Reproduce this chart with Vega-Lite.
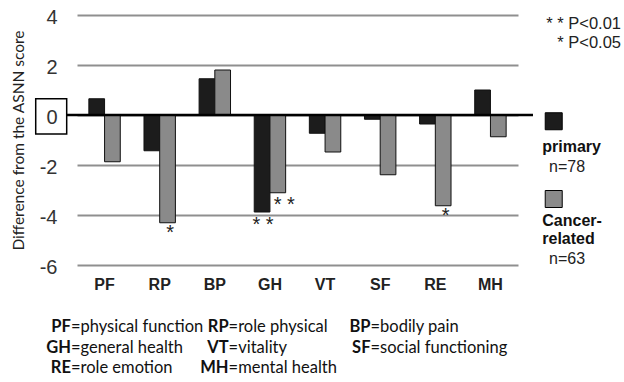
{
  "$schema": "https://vega.github.io/schema/vega-lite/v6.json",
  "width": 441,
  "height": 250,
  "autosize": {"type": "none"},
  "padding": {"left": 77, "top": 15, "right": 106, "bottom": 117},
  "background": "white",
  "config": {"view": {"stroke": null}, "font": "Liberation Sans", "text": {"font": "Liberation Sans"}, "axis": {"labelFont": "Liberation Sans"}},
  "datasets": {
    "scores": [
      {"domain": "PF", "series": "primary", "value": 0.65, "sig": ""},
      {"domain": "PF", "series": "cancer", "value": -1.87, "sig": ""},
      {"domain": "RP", "series": "primary", "value": -1.43, "sig": ""},
      {"domain": "RP", "series": "cancer", "value": -4.31, "sig": "*"},
      {"domain": "BP", "series": "primary", "value": 1.45, "sig": ""},
      {"domain": "BP", "series": "cancer", "value": 1.8, "sig": ""},
      {"domain": "GH", "series": "primary", "value": -3.88, "sig": "* *"},
      {"domain": "GH", "series": "cancer", "value": -3.11, "sig": "* *"},
      {"domain": "VT", "series": "primary", "value": -0.73, "sig": ""},
      {"domain": "VT", "series": "cancer", "value": -1.48, "sig": ""},
      {"domain": "SF", "series": "primary", "value": -0.17, "sig": ""},
      {"domain": "SF", "series": "cancer", "value": -2.39, "sig": ""},
      {"domain": "RE", "series": "primary", "value": -0.36, "sig": ""},
      {"domain": "RE", "series": "cancer", "value": -3.63, "sig": "*"},
      {"domain": "MH", "series": "primary", "value": 1.0, "sig": ""},
      {"domain": "MH", "series": "cancer", "value": -0.87, "sig": ""}
    ],
    "key": [
      {"col": 0, "line": 0, "abbr": "PF", "desc": "=physical function"},
      {"col": 1, "line": 0, "abbr": "RP", "desc": "=role physical"},
      {"col": 2, "line": 0, "abbr": "BP", "desc": "=bodily pain"},
      {"col": 0, "line": 1, "abbr": "GH", "desc": "=general health"},
      {"col": 1, "line": 1, "abbr": "VT", "desc": "=vitality"},
      {"col": 2, "line": 1, "abbr": "SF", "desc": "=social functioning"},
      {"col": 0, "line": 2, "abbr": "RE", "desc": "=role emotion"},
      {"col": 1, "line": 2, "abbr": "MH", "desc": "=mental health"}
    ]
  },
  "layer": [
    {
      "data": {"name": "scores"},
      "encoding": {
        "x": {
          "field": "domain",
          "type": "nominal",
          "sort": ["PF", "RP", "BP", "GH", "VT", "SF", "RE", "MH"],
          "scale": {"paddingInner": 0.43, "paddingOuter": 0.215},
          "axis": {
            "title": null,
            "domain": false,
            "ticks": false,
            "tickSize": 0,
            "labelAngle": 0,
            "labelFont": "Liberation Sans",
            "labelFontSize": 16,
            "labelFontWeight": "bold",
            "labelColor": "#222222",
            "labelPadding": 11,
            "grid": false
          }
        },
        "y": {
          "field": "value",
          "type": "quantitative",
          "scale": {"domain": [-6, 4], "nice": false, "zero": false},
          "axis": {
            "title": "Difference from the ASNN score",
            "titleFont": "Lato",
            "titleFontSize": 15.5,
            "titleFontWeight": "normal",
            "titleColor": "#222222",
            "titleAngle": -90,
            "titleX": -59,
            "titleY": 125,
            "titleAlign": "center",
            "titleBaseline": "middle",
            "values": [-6, -4, -2, 0, 2, 4],
            "labelExpr": "toString(datum.value)",
            "domain": false,
            "ticks": false,
            "tickSize": 0,
            "labelFont": "Liberation Sans",
            "labelFontSize": 20,
            "labelColor": "#333333",
            "labelPadding": 20,
            "labelOffset": 2,
            "grid": true,
            "gridColor": "#8f8f8f",
            "gridWidth": 2
          }
        }
      },
      "layer": [
        {
          "mark": {"type": "bar", "stroke": "#111111", "strokeWidth": 1},
          "encoding": {
            "y2": {"datum": 0},
            "xOffset": {"field": "series", "sort": ["primary", "cancer"]},
            "color": {
              "field": "series",
              "scale": {"domain": ["primary", "cancer"], "range": ["#1c1c1c", "#8a8a8a"]},
              "legend": null
            }
          }
        },
        {
          "transform": [{"filter": "datum.sig != '' && datum.domain != 'GH'"}],
          "mark": {"type": "text", "font": "Liberation Sans", "baseline": "top", "align": "center", "fontSize": 20, "dx": 2.5, "dy": 0, "color": "#222222"},
          "encoding": {
            "xOffset": {"field": "series", "sort": ["primary", "cancer"]},
            "text": {"field": "sig"}
          }
        },
        {
          "transform": [{"filter": "datum.domain == 'GH' && datum.series == 'primary'"}],
          "mark": {"type": "text", "font": "Liberation Sans", "baseline": "top", "align": "center", "fontSize": 20, "dx": 1, "dy": 3, "color": "#222222"},
          "encoding": {
            "xOffset": {"field": "series", "sort": ["primary", "cancer"]},
            "text": {"field": "sig"}
          }
        },
        {
          "transform": [{"filter": "datum.domain == 'GH' && datum.series == 'cancer'"}],
          "mark": {"type": "text", "font": "Liberation Sans", "baseline": "top", "align": "center", "fontSize": 20, "dx": 6.5, "dy": 2.5, "color": "#222222"},
          "encoding": {
            "xOffset": {"field": "series", "sort": ["primary", "cancer"]},
            "text": {"field": "sig"}
          }
        }
      ]
    },
    {
      "data": {"values": [{"a": 1}]},
      "layer": [
        {
          "mark": {"type": "rule", "color": "#000000", "strokeWidth": 2.5},
          "encoding": {
            "x": {"datum": -0.187, "type": "quantitative", "scale": {"domain": [0, 8], "nice": false, "zero": false}, "axis": null},
            "x2": {"datum": 8.272},
            "y": {"datum": 0, "type": "quantitative", "scale": {"domain": [-6, 4], "nice": false, "zero": false}, "axis": null}
          }
        },
        {
          "mark": {"type": "rect", "fill": "#ffffff", "fillOpacity": 0, "stroke": "#000000", "strokeWidth": 1.5},
          "encoding": {
            "x": {"datum": -0.749, "type": "quantitative"},
            "x2": {"datum": -0.187},
            "y": {"datum": 0.652, "type": "quantitative"},
            "y2": {"datum": -0.76}
          }
        },
        {
          "mark": {"type": "point", "shape": "square", "filled": true, "size": 289, "fill": "#1c1c1c", "stroke": "#000000", "strokeWidth": 1, "opacity": 1},
          "encoding": {
            "x": {"datum": 8.648, "type": "quantitative"},
            "y": {"datum": -0.25, "type": "quantitative"}
          }
        },
        {
          "mark": {"type": "point", "shape": "square", "filled": true, "size": 289, "fill": "#8a8a8a", "stroke": "#000000", "strokeWidth": 1, "opacity": 1},
          "encoding": {
            "x": {"datum": 8.648, "type": "quantitative"},
            "y": {"datum": -3.36, "type": "quantitative"}
          }
        },
        {
          "mark": {"type": "text", "font": "Liberation Sans", "text": "primary", "fontWeight": "bold", "fontSize": 16, "align": "left", "baseline": "middle", "color": "#111111"},
          "encoding": {
            "x": {"datum": 8.44, "type": "quantitative"},
            "y": {"datum": -1.29, "type": "quantitative"}
          }
        },
        {
          "mark": {"type": "text", "font": "Liberation Sans", "text": "n=78", "fontSize": 16, "align": "left", "baseline": "middle", "color": "#222222"},
          "encoding": {
            "x": {"datum": 8.563, "type": "quantitative"},
            "y": {"datum": -2.07, "type": "quantitative"}
          }
        },
        {
          "mark": {"type": "text", "font": "Liberation Sans", "text": "Cancer-", "fontWeight": "bold", "fontSize": 16, "align": "left", "baseline": "middle", "color": "#111111"},
          "encoding": {
            "x": {"datum": 8.44, "type": "quantitative"},
            "y": {"datum": -4.24, "type": "quantitative"}
          }
        },
        {
          "mark": {"type": "text", "font": "Liberation Sans", "text": "related", "fontWeight": "bold", "fontSize": 16, "align": "left", "baseline": "middle", "color": "#111111"},
          "encoding": {
            "x": {"datum": 8.44, "type": "quantitative"},
            "y": {"datum": -4.96, "type": "quantitative"}
          }
        },
        {
          "mark": {"type": "text", "font": "Liberation Sans", "text": "n=63", "fontSize": 16, "align": "left", "baseline": "middle", "color": "#222222"},
          "encoding": {
            "x": {"datum": 8.563, "type": "quantitative"},
            "y": {"datum": -5.77, "type": "quantitative"}
          }
        },
        {
          "mark": {"type": "text", "font": "Liberation Sans", "text": "* * P<0.01", "fontSize": 16.5, "align": "right", "baseline": "middle", "color": "#222222"},
          "encoding": {
            "x": {"datum": 9.869, "type": "quantitative"},
            "y": {"datum": 3.64, "type": "quantitative"}
          }
        },
        {
          "mark": {"type": "text", "font": "Liberation Sans", "text": "* P<0.05", "fontSize": 16.5, "align": "right", "baseline": "middle", "color": "#222222"},
          "encoding": {
            "x": {"datum": 9.869, "type": "quantitative"},
            "y": {"datum": 2.87, "type": "quantitative"}
          }
        }
      ]
    },
    {
      "data": {"name": "key"},
      "encoding": {
        "y": {"field": "line", "type": "quantitative", "scale": {"domain": [0, 2], "range": [312.3, 353.3], "nice": false, "zero": false}, "axis": null}
      },
      "layer": [
        {
          "transform": [{"filter": "datum.col == 0"}],
          "mark": {"type": "text", "font": "Lato", "fontWeight": "bold", "fontSize": 16.5, "align": "right", "baseline": "middle", "color": "#111111"},
          "encoding": {"x": {"datum": -0.11, "type": "quantitative", "scale": {"domain": [0, 8], "nice": false, "zero": false}, "axis": null}, "text": {"field": "abbr"}}
        },
        {
          "transform": [{"filter": "datum.col == 0"}],
          "mark": {"type": "text", "font": "Lato", "fontSize": 16.5, "align": "left", "baseline": "middle", "color": "#111111"},
          "encoding": {"x": {"datum": -0.11, "type": "quantitative"}, "text": {"field": "desc"}}
        },
        {
          "transform": [{"filter": "datum.col == 1"}],
          "mark": {"type": "text", "font": "Lato", "fontWeight": "bold", "fontSize": 16.5, "align": "right", "baseline": "middle", "color": "#111111"},
          "encoding": {"x": {"datum": 2.75, "type": "quantitative"}, "text": {"field": "abbr"}}
        },
        {
          "transform": [{"filter": "datum.col == 1"}],
          "mark": {"type": "text", "font": "Lato", "fontSize": 16.5, "align": "left", "baseline": "middle", "color": "#111111"},
          "encoding": {"x": {"datum": 2.75, "type": "quantitative"}, "text": {"field": "desc"}}
        },
        {
          "transform": [{"filter": "datum.col == 2"}],
          "mark": {"type": "text", "font": "Lato", "fontWeight": "bold", "fontSize": 16.5, "align": "right", "baseline": "middle", "color": "#111111"},
          "encoding": {"x": {"datum": 5.324, "type": "quantitative"}, "text": {"field": "abbr"}}
        },
        {
          "transform": [{"filter": "datum.col == 2"}],
          "mark": {"type": "text", "font": "Lato", "fontSize": 16.5, "align": "left", "baseline": "middle", "color": "#111111"},
          "encoding": {"x": {"datum": 5.324, "type": "quantitative"}, "text": {"field": "desc"}}
        }
      ]
    }
  ],
  "resolve": {"scale": {"x": "independent", "y": "independent"}}
}
